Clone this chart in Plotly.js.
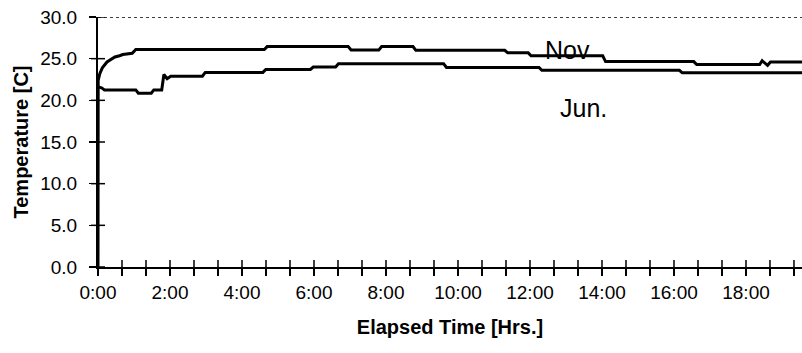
<!DOCTYPE html>
<html>
<head>
<meta charset="utf-8">
<script src="https://cdn.plot.ly/plotly-3.0.1.min.js"></script>
<style>html,body{margin:0;padding:0;background:#fff;}#chart{width:802px;height:353px;}</style>
</head>
<body>
<div id="chart"></div>
<script>
// Elapsed time (hours) and temperature (C)
var novTime = [0, 0.005, 0.05, 0.12, 0.25, 0.47, 0.6, 0.69, 0.95, 1.05, 4.62, 4.7, 6.95, 7.03, 7.8, 7.88, 8.75, 8.83, 11.3, 11.38, 11.95, 12.03, 14.02, 14.1, 16.55, 16.63, 18.38, 18.45, 18.6, 18.68, 19.6];
var novTemp = [0, 22.4, 23.2, 23.9, 24.6, 25.2, 25.35, 25.5, 25.65, 26.1, 26.1, 26.45, 26.45, 26.05, 26.05, 26.45, 26.45, 26.0, 26.0, 25.7, 25.7, 25.35, 25.35, 24.65, 24.65, 24.3, 24.3, 24.75, 24.2, 24.6, 24.6];

var junTime = [0, 0.1, 0.18, 1.05, 1.12, 1.48, 1.55, 1.77, 1.83, 1.92, 2.02, 2.9, 2.98, 4.58, 4.66, 5.9, 5.98, 6.6, 6.68, 9.6, 9.68, 12.25, 12.33, 16.15, 16.23, 19.6];
var junTemp = [21.6, 21.5, 21.25, 21.25, 20.85, 20.85, 21.25, 21.25, 23.1, 22.6, 22.9, 22.9, 23.35, 23.35, 23.7, 23.7, 24.0, 24.0, 24.4, 24.4, 23.95, 23.95, 23.6, 23.6, 23.3, 23.3];

var seriesNames = ['Nov', 'Jun.'];
var xTickLabels = ['0:00', '2:00', '4:00', '6:00', '8:00', '10:00', '12:00', '14:00', '16:00', '18:00'];
var xTickStep = 2 / 3;          // a tick every 40 minutes
var xLabelEvery = 3;            // a label every third tick
var yTickValues = [0, 5, 10, 15, 20, 25, 30];

var xMax = 19.556;
var tickVals = [], tickText = [];
for (var k = 0; k * xTickStep <= xMax + 1e-9; k++) {
  tickVals.push(k * xTickStep);
  tickText.push(k % xLabelEvery === 0 ? (xTickLabels[k / xLabelEvery] || '') : '');
}

var font = 'Liberation Sans, Arial, sans-serif';
var TICK = 7;

var traces = [
  {x: novTime, y: novTemp, mode: 'lines', name: seriesNames[0], line: {color: '#000', width: 3}},
  {x: junTime, y: junTemp, mode: 'lines', name: seriesNames[1], line: {color: '#000', width: 3}}
];

// crossing tick marks: full-length marks centred on the axes
var shapes = [
  {type: 'line', xref: 'paper', yref: 'y', x0: 0, x1: 1, y0: 30, y1: 30, line: {color: '#000', width: 1.5, dash: 'dot'}}
];
tickVals.forEach(function (v) {
  shapes.push({type: 'line', xref: 'x', yref: 'paper', ysizemode: 'pixel', yanchor: 0, y0: -TICK, y1: TICK, x0: v, x1: v,
               layer: 'above', line: {color: '#000', width: 1.5}});
});
yTickValues.forEach(function (v) {
  shapes.push({type: 'line', xref: 'paper', yref: 'y', xsizemode: 'pixel', xanchor: 0, x0: -TICK, x1: TICK, y0: v, y1: v,
               layer: 'above', line: {color: '#000', width: 1.5}});
});

var layout = {
  width: 802, height: 353,
  margin: {l: 98, r: 0, t: 17, b: 86},
  paper_bgcolor: '#fff', plot_bgcolor: '#fff',
  showlegend: false,
  font: {family: font, color: '#000', size: 19},
  xaxis: {
    range: [0, xMax], tickmode: 'array', tickvals: tickVals, ticktext: tickText,
    ticks: 'outside', ticklen: TICK, tickwidth: 1.5, tickcolor: '#000',
    showline: true, linecolor: '#000', linewidth: 2, showgrid: false, zeroline: false,
    tickfont: {family: font, size: 19, color: '#000'},
    title: {text: '<b>Elapsed Time [Hrs.]</b>', font: {family: font, size: 20, color: '#000'}, standoff: 18},
    fixedrange: true
  },
  yaxis: {
    range: [0, 30], tickmode: 'array', tickvals: yTickValues, tickformat: '.1f',
    ticks: 'outside', ticklen: TICK, tickwidth: 1.5, tickcolor: '#000',
    ticklabelstandoff: 8,
    showline: true, linecolor: '#000', linewidth: 2, showgrid: false, zeroline: false,
    tickfont: {family: font, size: 19, color: '#000'},
    title: {text: '<b>Temperature [C]</b>', font: {family: font, size: 20, color: '#000'}, standoff: 6},
    fixedrange: true
  },
  shapes: shapes,
  annotations: [
    {x: 13.03, y: 26.0, xref: 'x', yref: 'y', text: seriesNames[0], showarrow: false, xanchor: 'center', yanchor: 'middle', font: {family: font, size: 25, color: '#000'}},
    {x: 13.5, y: 19.1, xref: 'x', yref: 'y', text: seriesNames[1], showarrow: false, xanchor: 'center', yanchor: 'middle', font: {family: font, size: 25, color: '#000'}}
  ]
};

Plotly.newPlot('chart', traces, layout, {displayModeBar: false, staticPlot: true});
</script>
</body>
</html>
